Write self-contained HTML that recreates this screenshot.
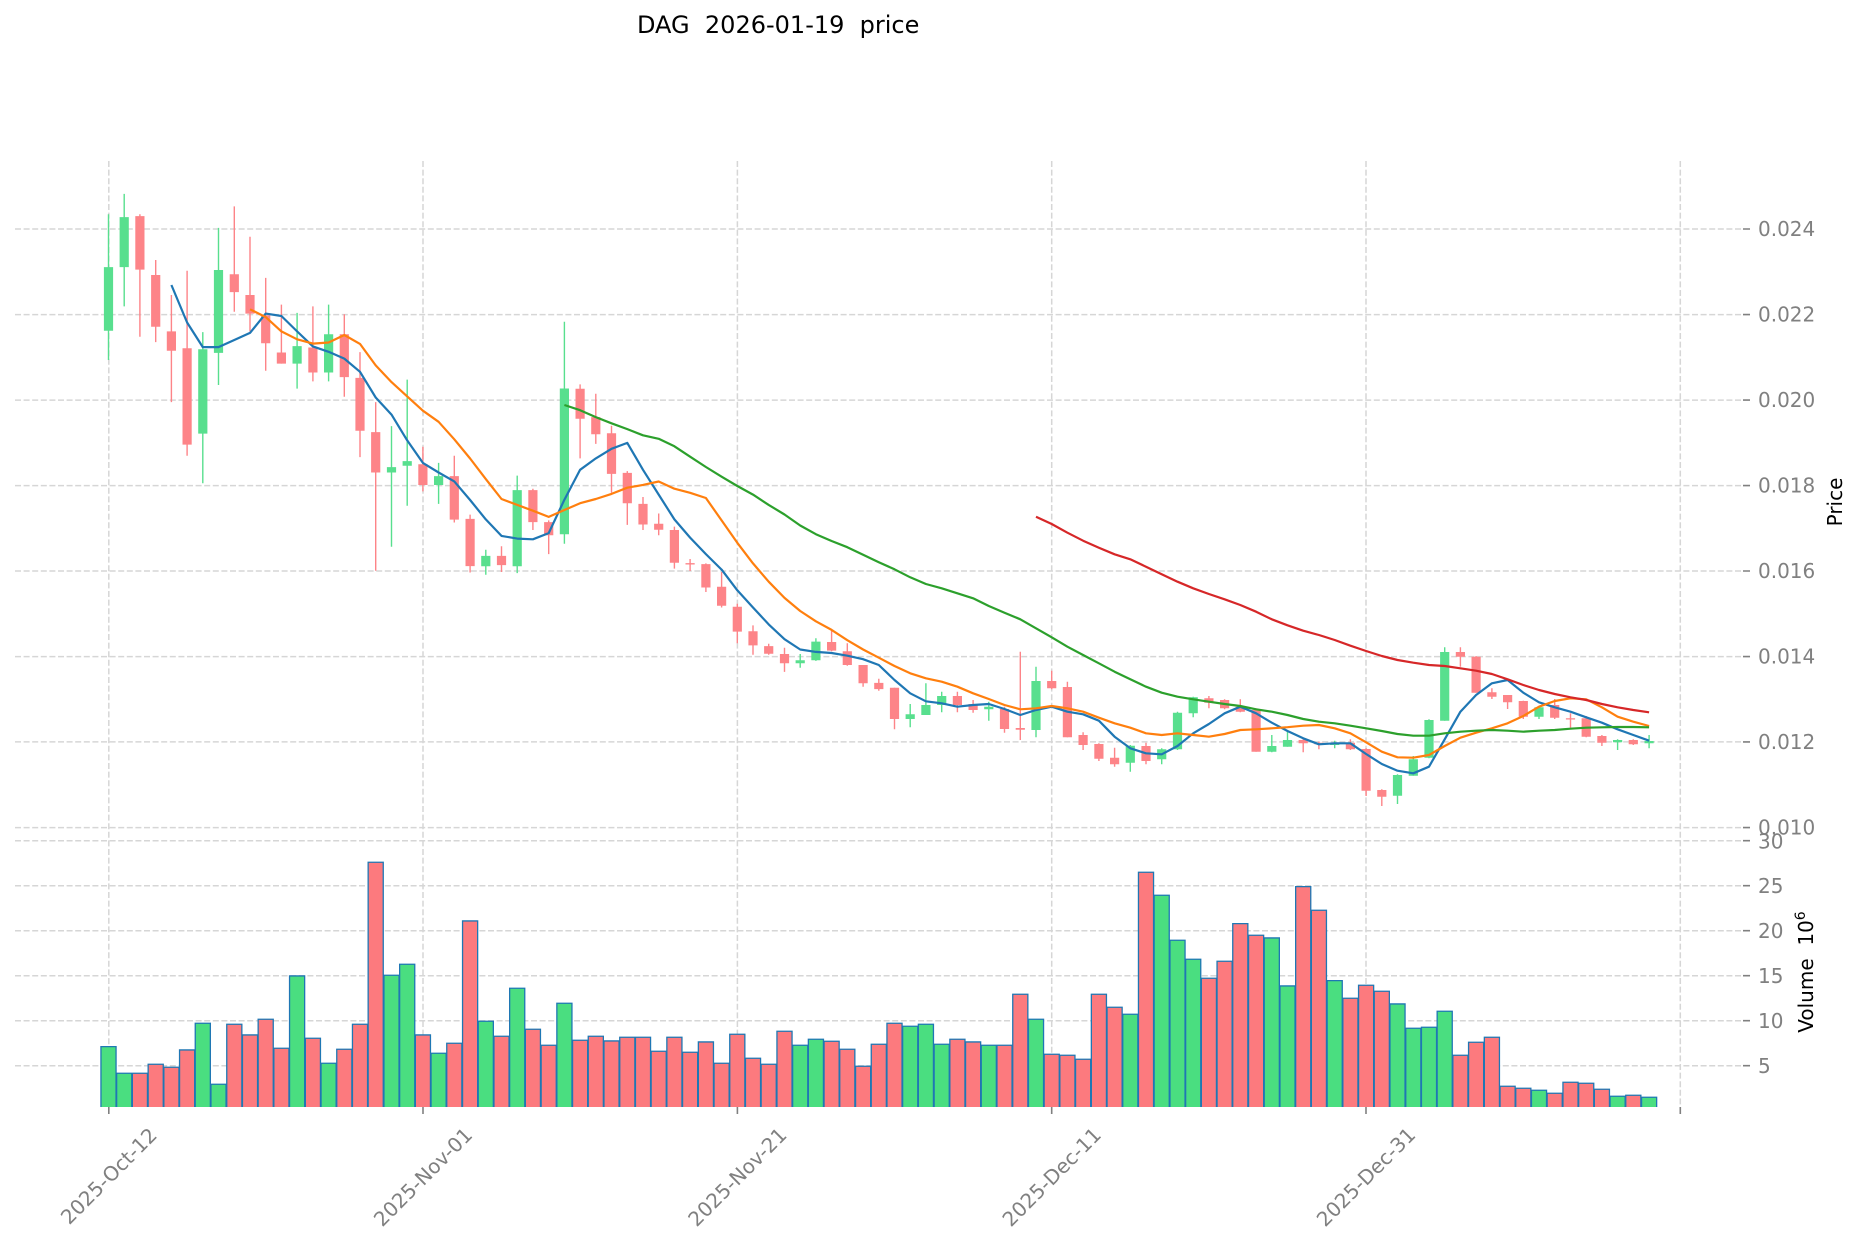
<!DOCTYPE html>
<html><head><meta charset="utf-8"><style>html,body{margin:0;padding:0;background:#fff}svg{display:block}text{font-family:"DejaVu Sans","Liberation Sans",sans-serif}</style></head><body>
<svg width="1860" height="1246" viewBox="0 0 1860 1246" xmlns="http://www.w3.org/2000/svg">
<rect width="1860" height="1246" fill="#fff"/>
<text x="637" y="33" font-size="24" fill="#000" style="white-space:pre">DAG  2026-01-19  price</text>
<g stroke="#d6d6d6" stroke-width="1.5" stroke-dasharray="6,2.6" fill="none">
<path d="M15 229H1743M15 314.6H1743M15 400.1H1743M15 485.6H1743M15 571H1743M15 656.6H1743M15 741.9H1743M15 827.6H1743"/>
<path d="M15 840.7H1743M15 885.7H1743M15 930.7H1743M15 975.7H1743M15 1020.7H1743M15 1065.7H1743"/>
<path d="M108.8 161V1107M423 161V1107M737.4 161V1107M1051.7 161V1107M1366 161V1107M1680.3 161V1107"/>
</g>
<g stroke="#808080" stroke-width="1.6">
<path d="M1743 229H1750M1743 314.6H1750M1743 400.1H1750M1743 485.6H1750M1743 571H1750M1743 656.6H1750M1743 741.9H1750M1743 827.6H1750"/>
<path d="M1743 840.7H1750M1743 885.7H1750M1743 930.7H1750M1743 975.7H1750M1743 1020.7H1750M1743 1065.7H1750"/>
<path d="M108.8 1107V1114M423 1107V1114M737.4 1107V1114M1051.7 1107V1114M1366 1107V1114M1680.3 1107V1114"/>
</g>
<g font-size="20" fill="#808080" dominant-baseline="central">
<text x="1758" y="229">0.024</text>
<text x="1758" y="314.6">0.022</text>
<text x="1758" y="400.1">0.020</text>
<text x="1758" y="485.6">0.018</text>
<text x="1758" y="571">0.016</text>
<text x="1758" y="656.6">0.014</text>
<text x="1758" y="741.9">0.012</text>
<text x="1758" y="827.6">0.010</text>
<text x="1758" y="841.5">30</text>
<text x="1758" y="886">25</text>
<text x="1758" y="931">20</text>
<text x="1758" y="976">15</text>
<text x="1758" y="1021">10</text>
<text x="1758" y="1066">5</text>
</g>
<g font-size="20" fill="#808080" text-anchor="middle" dominant-baseline="central">
<text transform="translate(108.8,1176) rotate(-45)">2025-Oct-12</text>
<text transform="translate(423,1177) rotate(-45)">2025-Nov-01</text>
<text transform="translate(737.4,1177) rotate(-45)">2025-Nov-21</text>
<text transform="translate(1051.7,1177) rotate(-45)">2025-Dec-11</text>
<text transform="translate(1366,1177) rotate(-45)">2025-Dec-31</text>
</g>
<text transform="translate(1842,502) rotate(-90)" font-size="20" fill="#000" text-anchor="middle">Price</text>
<text transform="translate(1813,972) rotate(-90)" font-size="20" fill="#000" text-anchor="middle" style="white-space:pre">Volume  10<tspan font-size="14" dy="-8">6</tspan></text>
<path fill="none" stroke="#58df8e" stroke-width="1.4" d="M108.5 214.3V360M124.2 193.9V306.4M202.8 332.1V483.2M218.5 227.9V385M297.1 312.9V388.6M328.6 304.6V381.4M391.5 426.1V546.8M407.2 379.6V505.7M438.6 462.9V503.9M485.8 549.7V574.8M517.2 475.6V573.1M564.4 321.7V543.8M800.2 654V667.8M815.9 638.2V660.9M910.2 704V727.3M925.9 683.3V715M941.7 691.7V712.3M988.8 701.7V720.7M1036 666.7V737.3M1130.3 745V771.7M1161.7 748.3V764.3M1177.5 711.7V750M1193.2 696.7V717.3M1271.8 735V752.3M1287.5 731.7V746.7M1334.7 740.7V748.3M1397.5 774.3V804M1413.3 756V775.7M1429 719.3V758.3M1444.7 647.3V720.7M1539 706.7V719M1617.6 739.3V750M1649.1 735V748.3"/>
<path fill="none" stroke="#fd8488" stroke-width="1.4" d="M139.9 214.3V336.8M155.7 260V342.1M171.4 295V402.1M187.1 270.7V455.7M234.3 206.4V311.8M250 236.8V331.4M265.7 277.9V370.7M281.4 304.6V363.6M312.9 306.4V381.4M344.3 314.3V396.8M360 352.1V457.1M375.7 402.1V570.7M422.9 446.8V491.4M454.3 455.7V522.5M470.1 514.6V572.5M501.5 546.2V572M532.9 488.7V530M548.7 520.4V554.1M580.1 384.4V458.4M595.8 393.7V443.9M611.5 425.7V492.8M627.3 471.1V524.9M643 497V530M658.7 513.5V535.2M674.4 526.6V568.6M690.1 559V571M705.9 563.4V592M721.6 572V607.5M737.3 603.7V643.3M753 625.4V654.7M768.7 643.7V654.7M784.5 647.8V671.9M831.6 630.6V651.2M847.3 643.3V665.7M863.1 665V686.7M878.8 678.8V690.8M894.5 687.7V729.3M957.4 691.7V712.3M973.1 700V712.7M1004.5 706.7V732.7M1020.3 651.7V740M1051.7 670.7V689.3M1067.4 681.7V737.3M1083.1 732.3V750M1098.9 743.3V761M1114.6 747.7V766.7M1146 742.7V764.3M1208.9 696V708.3M1224.6 699.3V709.3M1240.3 699.3V712.3M1256.1 708.3V751.7M1303.2 739.3V752.3M1318.9 741.7V749.3M1350.4 739.3V750M1366.1 748.3V796M1381.8 789.3V806M1460.4 647.3V666.7M1476.1 656V692.7M1491.9 688.3V699M1507.6 695V709M1523.3 700.7V719M1554.7 699V719M1570.5 713.3V727.7M1586.2 716V737.3M1601.9 735V746M1633.3 739.3V745"/>
<path fill="none" stroke="#58df8e" stroke-width="9.2" d="M108.5 267.1V330.7M124.2 217.1V267.1M202.8 349.3V433.6M218.5 270V352.9M297.1 346.1V363.6M328.6 334.3V372.5M391.5 467.1V472.5M407.2 461.1V465.7M438.6 476.1V485M485.8 555.9V566.2M517.2 490.1V566.2M564.4 388.5V534.2M800.2 660.2V663.3M815.9 641.6V660.2M910.2 714.3V719M925.9 705V715M941.7 696V705M988.8 706.7V709.3M1036 681V730M1130.3 745.7V762.7M1161.7 749.3V759.3M1177.5 712.7V749.3M1193.2 697.3V713.3M1271.8 746V751.7M1287.5 740V746.7M1334.7 742.7V745M1397.5 775V795.7M1413.3 759.3V775.7M1429 720V757.7M1444.7 652V720.7M1539 707.3V716.7M1617.6 740V742.3M1649.1 741V743.3"/>
<path fill="none" stroke="#fd8488" stroke-width="9.2" d="M139.9 216.1V269.6M155.7 275V326.8M171.4 331.4V350.7M187.1 348.2V444.6M234.3 274.3V292.1M250 295V313.6M265.7 315.4V343.2M281.4 352.5V363.6M312.9 347.5V372.5M344.3 334.3V377.1M360 377.9V430.7M375.7 432.1V472.5M422.9 464.3V485M454.3 476.1V519.6M470.1 518.9V566.1M501.5 555.9V565.1M532.9 490.1V522.1M548.7 522.1V535.2M580.1 388.8V418.8M595.8 417.1V434.3M611.5 433.3V473.9M627.3 472.9V503.2M643 503.9V524.5M658.7 523.8V529.7M674.4 530V562.7M690.1 563.1V564.5M705.9 564.1V587.5M721.6 586.8V605.8M737.3 606.8V631.6M753 631.3V645.4M768.7 646.1V653.7M784.5 654V663.3M831.6 642V650.6M847.3 651.2V665M863.1 665V683.3M878.8 682.9V689.1M894.5 687.7V719M957.4 696V705M973.1 704V710M1004.5 709V729M1020.3 728V729.7M1051.7 681V688.3M1067.4 687V737.3M1083.1 735V745M1098.9 744V758.7M1114.6 757.7V764.3M1146 746V761M1208.9 698.3V702.7M1224.6 700V708.3M1240.3 706.7V711.7M1256.1 710V751.7M1303.2 740V743.3M1318.9 742.7V744.3M1350.4 742.7V749.3M1366.1 749V790.7M1381.8 790V796.7M1460.4 652V656.7M1476.1 656.7V692.7M1491.9 692.3V696.7M1507.6 695V702.3M1523.3 701V716.7M1554.7 705V717.7M1570.5 718.3V719.5M1586.2 718.3V736.7M1601.9 736V742.7M1633.3 740V744.3"/>
<g fill="none" stroke-width="2.2" stroke-linejoin="round">
<polyline stroke="#1f77b4" points="171.4,285 187.1,322.5 202.8,347.1 218.5,347.1 234.3,340 250,332.9 265.7,313.6 281.4,316 297.1,331.4 312.9,346.4 328.6,351.8 344.3,358.6 360,371.8 375.7,397.5 391.5,414.6 407.2,440.4 422.9,462.9 438.6,472.5 454.3,481.4 470.1,500 485.8,519.4 501.5,535.9 517.2,538.6 532.9,539.3 548.7,533.1 564.4,499.7 580.1,469.8 595.8,458.4 611.5,448.8 627.3,442.9 643,469.8 658.7,494.6 674.4,519.4 690.1,537.6 705.9,554.1 721.6,569.6 737.3,590.3 753,607.5 768.7,624.4 784.5,639.2 800.2,649.5 815.9,651.9 831.6,653 847.3,655.7 863.1,659.2 878.8,665 894.5,680 910.2,693.3 925.9,701.3 941.7,703.3 957.4,706.7 973.1,705 988.8,704 1004.5,709 1020.3,715 1036,710 1051.7,706.7 1067.4,711.7 1083.1,714.3 1098.9,720.7 1114.6,736.7 1130.3,748.3 1146,753.3 1161.7,754.3 1177.5,746 1193.2,733.3 1208.9,724 1224.6,713.3 1240.3,706.7 1256.1,713.3 1271.8,722.7 1287.5,731 1303.2,738.3 1318.9,744.3 1334.7,743.3 1350.4,743.3 1366.1,754 1381.8,764 1397.5,770.7 1413.3,773.3 1429,766.7 1444.7,739.3 1460.4,711.7 1476.1,695 1491.9,683.3 1507.6,680 1523.3,692.7 1539,702.3 1554.7,707.3 1570.5,711.7 1586.2,717.3 1601.9,722.7 1617.6,729.3 1633.3,735 1649.1,740.7"/>
<polyline stroke="#ff7f0e" points="250,309.3 265.7,317.1 281.4,331.4 297.1,339.3 312.9,343.6 328.6,342.5 344.3,335 360,343.9 375.7,365.4 391.5,382.1 407.2,396.4 422.9,410.7 438.6,421.8 454.3,439.3 470.1,458.5 485.8,479.1 501.5,499 517.2,504.9 532.9,510.7 548.7,516.9 564.4,510 580.1,503.2 595.8,499 611.5,493.9 627.3,487.7 643,484.9 658.7,481.5 674.4,488.7 690.1,492.8 705.9,498 721.6,520.4 737.3,542.8 753,563.4 768.7,581.7 784.5,597.9 800.2,611 815.9,621.3 831.6,629.9 847.3,640.2 863.1,649.5 878.8,657.7 894.5,666 910.2,673.3 925.9,678.3 941.7,681.7 957.4,686.7 973.1,693.3 988.8,699 1004.5,705 1020.3,709.3 1036,708.3 1051.7,706 1067.4,708.3 1083.1,711.7 1098.9,717.7 1114.6,723.3 1130.3,727.7 1146,733.3 1161.7,735 1177.5,733.3 1193.2,735 1208.9,736.7 1224.6,734 1240.3,730 1256.1,729.3 1271.8,728.3 1287.5,727.2 1303.2,725.7 1318.9,725 1334.7,728.3 1350.4,733.3 1366.1,742.3 1381.8,751.7 1397.5,757.3 1413.3,757.7 1429,755 1444.7,746 1460.4,737.7 1476.1,732.7 1491.9,728.3 1507.6,723.3 1523.3,716 1539,706.7 1554.7,701 1570.5,698.3 1586.2,699.3 1601.9,707.3 1617.6,716.7 1633.3,721.7 1649.1,726"/>
<polyline stroke="#2ca02c" points="564.4,405 580.1,410.2 595.8,417.1 611.5,423.3 627.3,429.1 643,435.3 658.7,438.8 674.4,446.3 690.1,456.7 705.9,467 721.6,476.7 737.3,486 753,494.6 768.7,504.9 784.5,514.5 800.2,525.5 815.9,534.2 831.6,541 847.3,547.2 863.1,554.8 878.8,562.2 894.5,569.3 910.2,577.3 925.9,584 941.7,588.3 957.4,593.3 973.1,598.3 988.8,606 1004.5,612.7 1020.3,619.3 1036,628.3 1051.7,637.3 1067.4,646.7 1083.1,655 1098.9,663.3 1114.6,671.7 1130.3,679.3 1146,686.7 1161.7,692.7 1177.5,696.7 1193.2,699.3 1208.9,701.7 1224.6,704 1240.3,706 1256.1,709.3 1271.8,711.7 1287.5,715 1303.2,719 1318.9,721.7 1334.7,723.3 1350.4,725.7 1366.1,728.3 1381.8,731 1397.5,734 1413.3,735.7 1429,735.7 1444.7,733.3 1460.4,731.7 1476.1,730.7 1491.9,730 1507.6,730.7 1523.3,731.7 1539,730.7 1554.7,730 1570.5,728.7 1586.2,727.7 1601.9,727.3 1617.6,727 1633.3,727 1649.1,727.3"/>
<polyline stroke="#d62728" points="1036,516.7 1051.7,524 1067.4,532.7 1083.1,540.7 1098.9,547.7 1114.6,554.3 1130.3,559.3 1146,566.7 1161.7,574.3 1177.5,581.7 1193.2,588.3 1208.9,594 1224.6,599.3 1240.3,605 1256.1,611.7 1271.8,619.3 1287.5,625.3 1303.2,630.7 1318.9,635 1334.7,640 1350.4,645.7 1366.1,651 1381.8,656 1397.5,660 1413.3,662.7 1429,665 1444.7,666 1460.4,668.3 1476.1,670.7 1491.9,674 1507.6,679.3 1523.3,685 1539,690 1554.7,694 1570.5,697.3 1586.2,700 1601.9,704 1617.6,707.3 1633.3,710 1649.1,712.3"/>
</g>
<path fill="none" stroke="#1f77b4" stroke-width="16.4" d="M108.5 1046V1107M124.2 1072.6V1107M139.9 1072.6V1107M155.7 1063.6V1107M171.4 1066.6V1107M187.1 1049.3V1107M202.8 1022.6V1107M218.5 1083.6V1107M234.3 1023.6V1107M250 1034.3V1107M265.7 1018.6V1107M281.4 1047.6V1107M297.1 975.3V1107M312.9 1037.6V1107M328.6 1062.6V1107M344.3 1048.6V1107M360 1023.6V1107M375.7 861.6V1107M391.5 974.6V1107M407.2 963.6V1107M422.9 1034.3V1107M438.6 1052.6V1107M454.3 1042.6V1107M470.1 920.3V1107M485.8 1020.6V1107M501.5 1035.6V1107M517.2 987.6V1107M532.9 1028.6V1107M548.7 1044.6V1107M564.4 1002.6V1107M580.1 1039.6V1107M595.8 1035.6V1107M611.5 1040.3V1107M627.3 1036.6V1107M643 1036.6V1107M658.7 1050.6V1107M674.4 1036.6V1107M690.1 1051.6V1107M705.9 1041.3V1107M721.6 1062.6V1107M737.3 1033.6V1107M753 1057.6V1107M768.7 1063.6V1107M784.5 1030.6V1107M800.2 1044.6V1107M815.9 1038.6V1107M831.6 1040.6V1107M847.3 1048.6V1107M863.1 1065.6V1107M878.8 1043.6V1107M894.5 1022.6V1107M910.2 1025.6V1107M925.9 1023.6V1107M941.7 1043.6V1107M957.4 1038.6V1107M973.1 1041.3V1107M988.8 1044.6V1107M1004.5 1044.6V1107M1020.3 993.6V1107M1036 1018.6V1107M1051.7 1053.6V1107M1067.4 1054.6V1107M1083.1 1058.6V1107M1098.9 993.6V1107M1114.6 1006.6V1107M1130.3 1013.6V1107M1146 871.6V1107M1161.7 894.6V1107M1177.5 939.6V1107M1193.2 958.6V1107M1208.9 977.6V1107M1224.6 960.6V1107M1240.3 923V1107M1256.1 934.6V1107M1271.8 937.3V1107M1287.5 985.3V1107M1303.2 886V1107M1318.9 909.6V1107M1334.7 980V1107M1350.4 997.6V1107M1366.1 984.6V1107M1381.8 990.6V1107M1397.5 1003.3V1107M1413.3 1027.6V1107M1429 1026.6V1107M1444.7 1010.6V1107M1460.4 1054.6V1107M1476.1 1041.6V1107M1491.9 1036.6V1107M1507.6 1085.6V1107M1523.3 1087.6V1107M1539 1089.6V1107M1554.7 1092.6V1107M1570.5 1081.6V1107M1586.2 1082.6V1107M1601.9 1088.6V1107M1617.6 1095.6V1107M1633.3 1094.6V1107M1649.1 1096.6V1107"/>
<path fill="none" stroke="#4ade80" stroke-width="13.8" d="M108.5 1047.3V1107M124.2 1073.9V1107M202.8 1023.9V1107M218.5 1084.9V1107M297.1 976.6V1107M328.6 1063.9V1107M391.5 975.9V1107M407.2 964.9V1107M438.6 1053.9V1107M485.8 1021.9V1107M517.2 988.9V1107M564.4 1003.9V1107M800.2 1045.9V1107M815.9 1039.9V1107M910.2 1026.9V1107M925.9 1024.9V1107M941.7 1044.9V1107M988.8 1045.9V1107M1036 1019.9V1107M1130.3 1014.9V1107M1161.7 895.9V1107M1177.5 940.9V1107M1193.2 959.9V1107M1271.8 938.6V1107M1287.5 986.6V1107M1334.7 981.3V1107M1397.5 1004.6V1107M1413.3 1028.9V1107M1429 1027.9V1107M1444.7 1011.9V1107M1539 1090.9V1107M1617.6 1096.9V1107M1649.1 1097.9V1107"/>
<path fill="none" stroke="#fc7a7e" stroke-width="13.8" d="M139.9 1073.9V1107M155.7 1064.9V1107M171.4 1067.9V1107M187.1 1050.6V1107M234.3 1024.9V1107M250 1035.6V1107M265.7 1019.9V1107M281.4 1048.9V1107M312.9 1038.9V1107M344.3 1049.9V1107M360 1024.9V1107M375.7 862.9V1107M422.9 1035.6V1107M454.3 1043.9V1107M470.1 921.6V1107M501.5 1036.9V1107M532.9 1029.9V1107M548.7 1045.9V1107M580.1 1040.9V1107M595.8 1036.9V1107M611.5 1041.6V1107M627.3 1037.9V1107M643 1037.9V1107M658.7 1051.9V1107M674.4 1037.9V1107M690.1 1052.9V1107M705.9 1042.6V1107M721.6 1063.9V1107M737.3 1034.9V1107M753 1058.9V1107M768.7 1064.9V1107M784.5 1031.9V1107M831.6 1041.9V1107M847.3 1049.9V1107M863.1 1066.9V1107M878.8 1044.9V1107M894.5 1023.9V1107M957.4 1039.9V1107M973.1 1042.6V1107M1004.5 1045.9V1107M1020.3 994.9V1107M1051.7 1054.9V1107M1067.4 1055.9V1107M1083.1 1059.9V1107M1098.9 994.9V1107M1114.6 1007.9V1107M1146 872.9V1107M1208.9 978.9V1107M1224.6 961.9V1107M1240.3 924.3V1107M1256.1 935.9V1107M1303.2 887.3V1107M1318.9 910.9V1107M1350.4 998.9V1107M1366.1 985.9V1107M1381.8 991.9V1107M1460.4 1055.9V1107M1476.1 1042.9V1107M1491.9 1037.9V1107M1507.6 1086.9V1107M1523.3 1088.9V1107M1554.7 1093.9V1107M1570.5 1082.9V1107M1586.2 1083.9V1107M1601.9 1089.9V1107M1633.3 1095.9V1107"/>
</svg>
</body></html>
